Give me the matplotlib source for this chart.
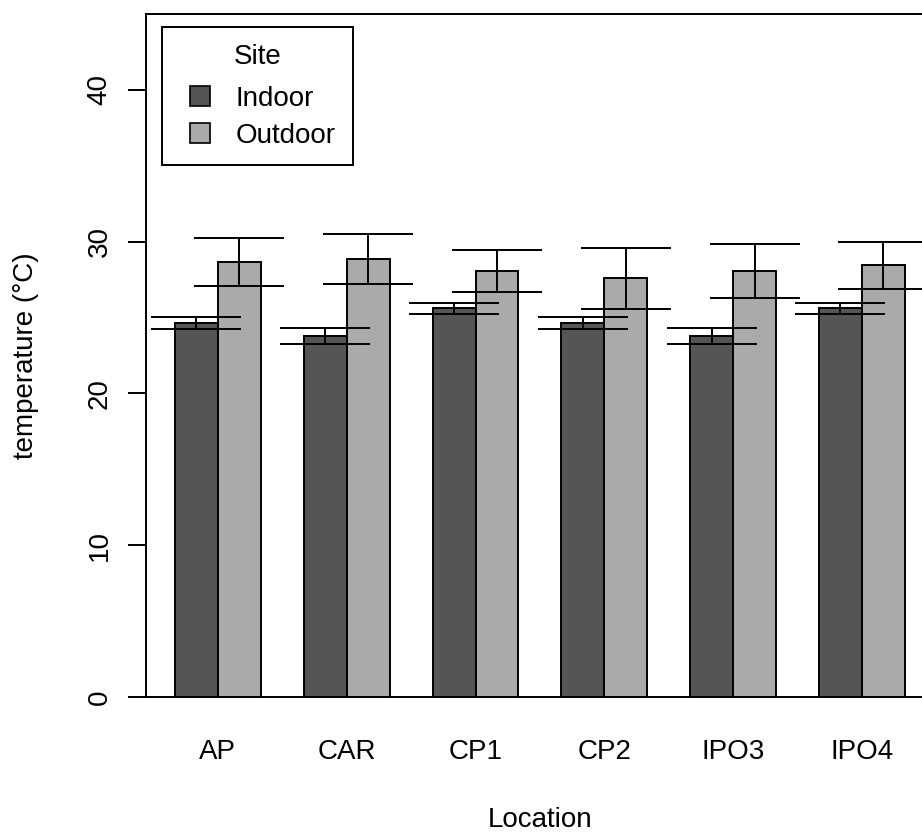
import matplotlib.pyplot as plt
from matplotlib.lines import Line2D
import numpy as np

plt.rcParams['font.family'] = ['Liberation Sans', 'DejaVu Sans']

locations = ['AP', 'CAR', 'CP1', 'CP2', 'IPO3', 'IPO4']
indoor = [24.64, 23.78, 25.61, 24.64, 23.78, 25.61]
indoor_err = [0.37, 0.5, 0.37, 0.37, 0.5, 0.37]
outdoor = [28.65, 28.87, 28.08, 27.58, 28.06, 28.43]
outdoor_err = [1.58, 1.64, 1.38, 2.0, 1.77, 1.53]
y_ticks = [0, 10, 20, 30, 40]

dark = '#555555'
light = '#aaaaaa'
lw = 1.4
fs = 20

W, H = 922, 833
fig = plt.figure(figsize=(W / 100, H / 100), dpi=100)
# plot box runs past the right edge of the image, like the reference
left, right, top, bottom = 145.8, 934.0, 14.0, 697.0
ax = fig.add_axes([left / W, 1 - bottom / H, (right - left) / W, (bottom - top) / H])

idx = np.arange(len(locations))
x_in = 1.5 + 3 * idx
x_out = 2.5 + 3 * idx

ax.bar(x_in, indoor, width=1.0, color=dark, edgecolor='black', linewidth=lw, zorder=2)
ax.bar(x_out, outdoor, width=1.0, color=light, edgecolor='black', linewidth=lw, zorder=2)
ax.errorbar(x_in, indoor, yerr=indoor_err, fmt='none', ecolor='black',
            elinewidth=lw, capsize=32.4, capthick=lw, zorder=3)
ax.errorbar(x_out, outdoor, yerr=outdoor_err, fmt='none', ecolor='black',
            elinewidth=lw, capsize=32.4, capthick=lw, zorder=3)

ax.set_xlim(0.32, 18.68)
ax.set_ylim(0, 45)

ax.set_xticks(2 + 3 * idx)
ax.set_xticklabels(locations, fontsize=fs)
ax.tick_params(axis='x', length=0, pad=30)
ax.set_yticks(y_ticks)
ax.set_yticklabels([str(t) for t in y_ticks], fontsize=fs, rotation=90, va='center')
ax.tick_params(axis='y', length=13, width=lw, pad=11)

for s in ax.spines.values():
    s.set_linewidth(lw)

fig.text(26 / W, 1 - 356 / H, 'temperature (°C)', rotation=90, ha='center', va='center', fontsize=fs)
fig.text(540 / W, 1 - 827 / H, 'Location', ha='center', va='baseline', fontsize=fs)

handles = [
    Line2D([], [], linestyle='none', marker='s', markersize=14.4, markerfacecolor=dark,
           markeredgecolor='black', markeredgewidth=1.2),
    Line2D([], [], linestyle='none', marker='s', markersize=14.4, markerfacecolor=light,
           markeredgecolor='black', markeredgewidth=1.2),
]
leg = ax.legend(handles, ['Indoor', 'Outdoor'], title='Site', fontsize=fs, title_fontsize=fs,
                loc='upper left', bbox_to_anchor=(162 / W, 1 - 27 / H),
                bbox_transform=fig.transFigure, borderaxespad=0, borderpad=0.6,
                handlelength=1.5, handletextpad=0.56, labelspacing=0.39,
                fancybox=False, framealpha=1, edgecolor='black')
leg.get_frame().set_linewidth(lw)
# more room between the title and the entries
leg._legend_box.sep = 11.7

fig.savefig('out.png', dpi=100)
